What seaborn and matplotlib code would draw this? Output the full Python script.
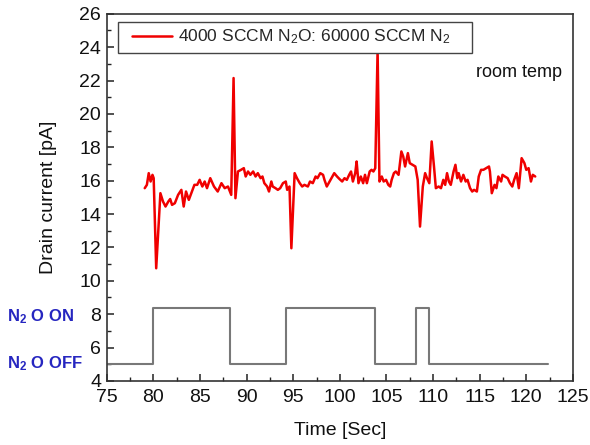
import numpy as np
import pandas as pd
import matplotlib
matplotlib.use("Agg")
import matplotlib.pyplot as plt
import matplotlib.transforms as mtransforms
from matplotlib.patches import Rectangle
from matplotlib.ticker import MultipleLocator
import seaborn as sns

# Drain current trace (time in s, current in pA)
time_s = [79.07, 79.3, 79.5, 79.7, 79.9, 80.03, 80.3, 80.75, 81.03, 81.3, 81.6, 81.8,
          82.0, 82.3, 82.65, 83.0, 83.25, 83.5, 83.8, 84.07, 84.4, 84.7, 84.96, 85.25,
          85.5, 85.75, 86.1, 86.5, 86.9, 87.3, 87.65, 88.0, 88.35, 88.6, 88.8, 89.07,
          89.4, 89.7, 89.9, 90.15, 90.4, 90.7, 90.96, 91.2, 91.5, 91.7, 91.9, 92.2,
          92.4, 92.65, 92.8, 93.1, 93.35, 93.6, 93.9, 94.2, 94.35, 94.6, 94.8, 95.15,
          95.4, 95.7, 95.96, 96.2, 96.57, 96.8, 97.1, 97.4, 97.6, 97.9, 98.2, 98.35,
          98.6, 98.9, 99.2, 99.4, 99.7, 99.96, 100.25, 100.5, 100.75, 101.0, 101.2,
          101.4, 101.65, 101.8, 102.0, 102.25, 102.5, 102.7, 102.9, 103.2, 103.4,
          103.6, 103.8, 104.05, 104.25, 104.5, 104.7, 104.96, 105.2, 105.4, 105.56,
          105.8, 106.0, 106.3, 106.6, 106.8, 107.0, 107.3, 107.5, 107.8, 108.1,
          108.35, 108.6, 108.9, 109.15, 109.35, 109.6, 109.85, 110.1, 110.3, 110.6,
          110.85, 111.1, 111.3, 111.5, 111.7, 111.9, 112.2, 112.4, 112.6, 112.75,
          113.0, 113.25, 113.5, 113.7, 113.97, 114.2, 114.4, 114.7, 114.9, 115.15,
          115.4, 115.7, 116.0, 116.1, 116.3, 116.6, 116.8, 117.0, 117.3, 117.45,
          117.7, 118.0, 118.25, 118.5, 118.7, 118.96, 119.2, 119.5, 119.8, 120.0,
          120.25, 120.5, 120.7, 120.96]
current_pA = [15.55, 15.75, 16.45, 15.95, 16.35, 16.15, 10.75, 15.25, 14.75, 14.45, 14.75, 14.9,
              14.55, 14.65, 15.15, 15.45, 14.45, 15.35, 14.85, 15.25, 15.75, 15.75, 16.05, 15.65,
              15.95, 15.55, 16.15, 15.65, 15.35, 15.85, 15.55, 15.65, 15.15, 22.15, 14.95, 16.55,
              16.65, 16.75, 16.25, 16.55, 16.35, 16.55, 16.25, 16.45, 16.15, 16.25, 15.85, 15.65,
              15.35, 15.95, 15.65, 15.55, 15.45, 15.55, 15.85, 15.95, 15.45, 15.65, 11.95, 16.45,
              16.15, 15.85, 15.65, 15.75, 15.65, 15.95, 15.85, 16.25, 16.15, 16.45, 16.35, 16.05,
              15.65, 15.95, 16.25, 16.45, 16.25, 16.1, 15.95, 16.15, 16.05, 16.35, 16.55,
              15.95, 16.45, 17.15, 15.85, 16.25, 15.85, 16.35, 15.85, 16.55, 16.65,
              16.55, 16.75, 23.8, 15.95, 16.25, 15.95, 16.05, 15.75, 15.65, 16.05,
              16.45, 16.55, 16.35, 17.75, 17.45, 16.85, 17.65, 17.05, 16.95, 16.85,
              16.05, 13.25, 15.65, 16.45, 16.15, 15.85, 18.35, 16.85, 15.55, 15.65,
              15.55, 16.05, 15.75, 16.45, 15.95, 15.75, 16.55, 16.95, 16.15, 16.45,
              15.95, 16.35, 15.95, 16.05, 15.55, 15.35, 15.45, 15.35, 16.25, 16.65,
              16.65, 16.75, 16.85, 16.55, 15.25, 15.75, 15.55, 16.25, 15.95, 16.35,
              16.25, 16.15, 15.85, 15.65, 16.05, 16.45, 15.55, 17.35, 17.05, 16.65,
              16.75, 15.95, 16.35, 16.25]

# N2O valve state (drawn as a step trace on the same axis)
valve_time = [75.1, 80.0, 88.2, 94.2, 103.8, 108.15, 109.55, 122.3]
valve_level = [5.0, 8.35, 5.0, 8.35, 5.0, 8.35, 5.0, 5.0]

x_ticks = [75, 80, 85, 90, 95, 100, 105, 110, 115, 120, 125]
y_ticks = [4, 6, 8, 10, 12, 14, 16, 18, 20, 22, 24, 26]
state_labels = [r"N$_\mathbf{2}$ O ON", r"N$_\mathbf{2}$ O OFF"]
state_levels = [7.85, 5.05]

sns.set_theme(style="ticks")
plt.rcParams["font.family"] = ["Liberation Sans", "DejaVu Sans"]
plt.rcParams["mathtext.fontset"] = "custom"
plt.rcParams["mathtext.rm"] = "Liberation Sans"
plt.rcParams["mathtext.it"] = "Liberation Sans:italic"
plt.rcParams["mathtext.bf"] = "Liberation Sans:bold"

trace = pd.DataFrame({"time": time_s, "current": current_pA})
valve = pd.DataFrame({"time": valve_time, "level": valve_level})

fig = plt.figure(figsize=(5.9, 4.45), dpi=100)
ax = fig.add_axes([0.181, 0.144, 0.790, 0.825])

sns.lineplot(data=valve, x="time", y="level", ax=ax, color="#787878",
             linewidth=1.5, drawstyle="steps-post", estimator=None, sort=False)
sns.lineplot(data=trace, x="time", y="current", ax=ax, color="#f00000",
             linewidth=1.8, estimator=None, sort=False,
             label=r"4000 SCCM N$_\mathregular{2}$O: 60000 SCCM N$_\mathregular{2}$")

ax.set_xlim(75, 125)
ax.set_ylim(4, 26)
ax.set_xticks(x_ticks)
ax.set_yticks(y_ticks)
ax.xaxis.set_minor_locator(MultipleLocator(2.5))
ax.yaxis.set_minor_locator(MultipleLocator(1))
ax.tick_params(which="major", direction="in", length=5, width=1.1, color="#222222",
               labelsize=14, labelcolor="#111111")
ax.tick_params(axis="x", which="major", pad=6)
ax.tick_params(axis="y", which="major", pad=4)
ax.tick_params(which="minor", direction="in", length=3, width=1.0, color="#222222")
for s in ax.spines.values():
    s.set_visible(True)
    s.set_color("#333333")
    s.set_linewidth(1.2)

ax.set_xlabel("Time [Sec]", fontsize=14, color="#111111", labelpad=11)
ax.set_ylabel("Drain current [pA]", fontsize=14, color="#111111", labelpad=16)

leg = ax.legend(loc="upper left", bbox_to_anchor=(0.054, 0.962), fontsize=12.5,
                frameon=False, handlelength=2.3, handletextpad=0.35,
                borderpad=0, borderaxespad=0)
leg.set_zorder(6)

ax.text(0.792, 22.5, "room temp",
        transform=mtransforms.blended_transform_factory(ax.transAxes, ax.transData),
        fontsize=13, color="#111111", va="center", ha="left")

lab_tr = mtransforms.blended_transform_factory(fig.transFigure, ax.transData)
for txt, lv in zip(state_labels, state_levels):
    ax.text(0.012, lv, txt, transform=lab_tr, fontsize=12, fontweight="bold",
            color="#2626c0", va="center", ha="left", clip_on=False)

# square frame around the legend entry, padded more on the right than the left
fig.canvas.draw()
bb = leg.get_window_extent()
pad_l, pad_r = 14, 22
pad_v = max((31 - bb.height) / 2.0, 3)
frame = Rectangle((bb.x0 - pad_l, bb.y0 - pad_v), bb.width + pad_l + pad_r,
                  bb.height + 2 * pad_v, transform=mtransforms.IdentityTransform(),
                  facecolor="white", edgecolor="#444444", linewidth=1.0,
                  zorder=5, clip_on=False)
ax.add_artist(frame)

fig.savefig("out.png", dpi=100)
